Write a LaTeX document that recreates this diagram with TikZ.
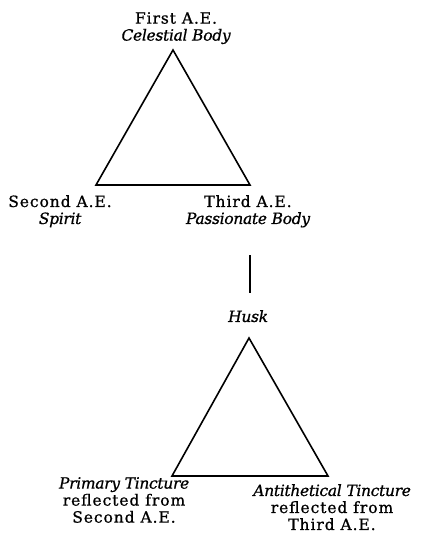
\documentclass[tikz,border=0pt]{standalone}
\usepackage{fontspec}
\setmainfont{DejaVu Serif}[LetterSpace=6, FakeBold=0.8, ItalicFeatures={LetterSpace=-2}]
\usepackage{tikz}
\usetikzlibrary{positioning}

\begin{document}
\begin{tikzpicture}[
    x=1pt, y=-1pt,
    triLine/.style={
        draw=black, line width=1.6pt, line join=miter
    },
    linkLine/.style={
        draw=black, line width=1.6pt
    },
    aeLabel/.style={
        font=\fontsize{15.5}{17}\selectfont, align=center,
        inner sep=0pt, anchor=north
    }
]
    \useasboundingbox (0,0) rectangle (421,533);

    % Upper triangle vertices
    \coordinate (upTop) at (173,50);
    \coordinate (upLeft) at (96,185);
    \coordinate (upRight) at (250,185);

    % Link between the triangles
    \coordinate (linkTop) at (250,255);
    \coordinate (linkBot) at (250,293);

    % Lower triangle vertices
    \coordinate (lowTop) at (249,338);
    \coordinate (lowLeft) at (172,476);
    \coordinate (lowRight) at (328,476);

    % Upper labels
    \node[aeLabel] (firstAE) at (176,12) {First A.E.\\\textit{Celestial Body}};
    \node[aeLabel] (secondAE) at (60,195) {Second A.E.\\\textit{Spirit}};
    \node[aeLabel] (thirdAE) at (248,195) {Third A.E.\\\textit{Passionate Body}};

    % Lower labels
    \node[aeLabel] (husk) at (248,310) {\textit{Husk}};
    \node[aeLabel] (primary) at (124,477) {\textit{Primary Tincture}\\reflected from\\Second A.E.};
    \node[aeLabel] (antithetical) at (332,484) {\textit{Antithetical Tincture}\\reflected from\\Third A.E.};

    % Lines
    \draw[triLine] (upTop) -- (upLeft) -- (upRight) -- cycle;
    \draw[linkLine] (linkTop) -- (linkBot);
    \draw[triLine] (lowTop) -- (lowLeft) -- (lowRight) -- cycle;

\end{tikzpicture}
\end{document}
